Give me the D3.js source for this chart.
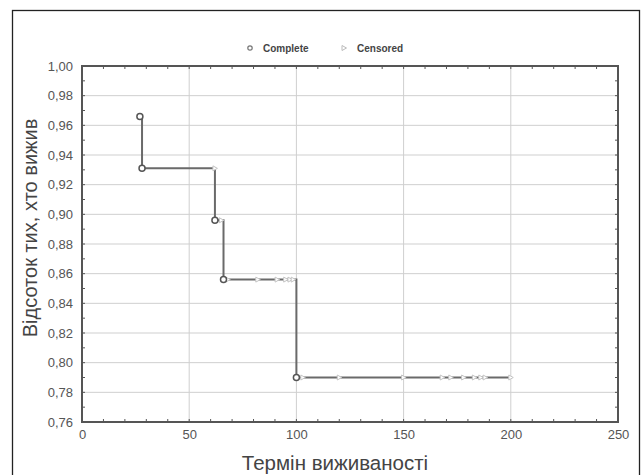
<!DOCTYPE html>
<html>
<head>
<meta charset="utf-8">
<script src="https://cdn.jsdelivr.net/npm/d3@7"></script>
<style>
  body { margin: 0; background: #fff; }
  svg { font-family: "Liberation Sans", Arial, sans-serif; }
</style>
</head>
<body>
<div id="chart"></div>
<script>
// complete (event) observations
var completeTime = [27, 28, 62, 66, 100];
var completeSurv = [0.966, 0.931, 0.896, 0.856, 0.790];

// censored observations
var censTime = [62, 65, 68, 82, 91, 95, 97, 98.5, 103, 120, 150, 168, 172, 178, 183, 186, 188, 200];
var censSurv = [0.931, 0.896, 0.856, 0.856, 0.856, 0.856, 0.856, 0.856,
                0.790, 0.790, 0.790, 0.790, 0.790, 0.790, 0.790, 0.790, 0.790, 0.790];

var xTicks = [0, 50, 100, 150, 200, 250];
var yTicks = [0.76, 0.78, 0.80, 0.82, 0.84, 0.86, 0.88, 0.90, 0.92, 0.94, 0.96, 0.98, 1.00];

var W = 642, H = 475;
var svg = d3.select("#chart").append("svg")
    .attr("width", W)
    .attr("height", H);

// outer frame
svg.append("rect")
    .attr("x", 12.5).attr("y", 10.5)
    .attr("width", 627).attr("height", 480)
    .attr("fill", "none")
    .attr("stroke", "#222")
    .attr("stroke-width", 1.3);

var x = d3.scaleLinear().domain([0, 250]).range([82, 618]);
var y = d3.scaleLinear().domain([0.76, 1.00]).range([422, 66]);

// grid
var grid = svg.append("g");
grid.selectAll(".gx")
    .data(xTicks.slice(1, -1))
    .enter().append("line")
    .attr("x1", d => x(d)).attr("x2", d => x(d))
    .attr("y1", y(1)).attr("y2", y(0.76))
    .attr("stroke", "#cfcfcf").attr("stroke-width", 1);
grid.selectAll(".gy")
    .data(yTicks.slice(1, -1))
    .enter().append("line")
    .attr("x1", x(0)).attr("x2", x(250))
    .attr("y1", d => y(d)).attr("y2", d => y(d))
    .attr("stroke", "#cfcfcf").attr("stroke-width", 1);

// minor ticks, inside on all sides
var minorX = d3.range(0, 251, 10);
var minorY = d3.range(0, 25).map(i => 0.76 + i * 0.01);
var tk = svg.append("g").attr("stroke", "#555").attr("stroke-width", 1);
minorX.forEach(function(v) {
    tk.append("line").attr("x1", x(v)).attr("x2", x(v)).attr("y1", y(0.76)).attr("y2", y(0.76) - 3);
    tk.append("line").attr("x1", x(v)).attr("x2", x(v)).attr("y1", y(1)).attr("y2", y(1) + 3);
});
minorY.forEach(function(v) {
    tk.append("line").attr("x1", x(0)).attr("x2", x(0) + 3).attr("y1", y(v)).attr("y2", y(v));
    tk.append("line").attr("x1", x(250)).attr("x2", x(250) - 3).attr("y1", y(v)).attr("y2", y(v));
});

// axes labels via d3 axes
var fmt = d3.format(".2f");
var yAxis = svg.append("g")
    .attr("transform", "translate(" + x(0) + ",0)")
    .call(d3.axisLeft(y).tickValues(yTicks).tickSize(0).tickPadding(9)
        .tickFormat(d => fmt(d).replace(".", ",")));
var xAxis = svg.append("g")
    .attr("transform", "translate(0," + y(0.76) + ")")
    .call(d3.axisBottom(x).tickValues(xTicks).tickSize(0).tickPadding(8));
[xAxis, yAxis].forEach(function(a) {
    a.select(".domain").remove();
    a.selectAll("text").attr("fill", "#555").style("font-size", "13px");
});

// plot frame
svg.append("rect")
    .attr("x", x(0)).attr("y", y(1))
    .attr("width", x(250) - x(0)).attr("height", y(0.76) - y(1))
    .attr("fill", "none")
    .attr("stroke", "#555")
    .attr("stroke-width", 2);

// KM step line
var pts = completeTime.map((t, i) => ({t: t, s: completeSurv[i], c: 1}))
    .concat(censTime.map((t, i) => ({t: t, s: censSurv[i], c: 0})))
    .sort((a, b) => a.t - b.t || b.s - a.s);
var line = d3.line()
    .x(d => x(d.t)).y(d => y(d.s))
    .curve(d3.curveStepAfter);
svg.append("path")
    .datum(pts)
    .attr("d", line)
    .attr("fill", "none")
    .attr("stroke", "#6a6a6a")
    .attr("stroke-width", 2);

// censored markers
svg.selectAll(".cens")
    .data(censTime)
    .enter().append("path")
    .attr("d", "M-2,-2.5 L2.5,0 L-2,2.5 Z")
    .attr("transform", (d, i) => "translate(" + x(d) + "," + y(censSurv[i]) + ")")
    .attr("fill", "#fff")
    .attr("stroke", "#c4c4c4")
    .attr("stroke-width", 1);

// complete markers
svg.selectAll(".comp")
    .data(completeTime)
    .enter().append("circle")
    .attr("cx", d => x(d))
    .attr("cy", (d, i) => y(completeSurv[i]))
    .attr("r", 3)
    .attr("fill", "#fff")
    .attr("stroke", "#555")
    .attr("stroke-width", 1.5);

// legend
var leg = svg.append("g").style("font-size", "10px").style("font-weight", "bold").attr("fill", "#444");
leg.append("circle").attr("cx", 250).attr("cy", 48).attr("r", 2.2)
    .attr("fill", "#fff").attr("stroke", "#777").attr("stroke-width", 1.2);
leg.append("text").attr("x", 263).attr("y", 52).text("Complete");
leg.append("path").attr("d", "M-2,-2.5 L2.5,0 L-2,2.5 Z")
    .attr("transform", "translate(344,48)")
    .attr("fill", "#fff").attr("stroke", "#bbb");
leg.append("text").attr("x", 357).attr("y", 52).text("Censored");

// axis titles
svg.append("text")
    .attr("x", 335).attr("y", 470)
    .attr("text-anchor", "middle")
    .attr("fill", "#444")
    .style("font-size", "20.5px")
    .text("Термін виживаності");
svg.append("text")
    .attr("transform", "translate(37,228) rotate(-90)")
    .attr("text-anchor", "middle")
    .attr("fill", "#444")
    .style("font-size", "20px")
    .text("Відсоток тих, хто вижив");
</script>
</body>
</html>
